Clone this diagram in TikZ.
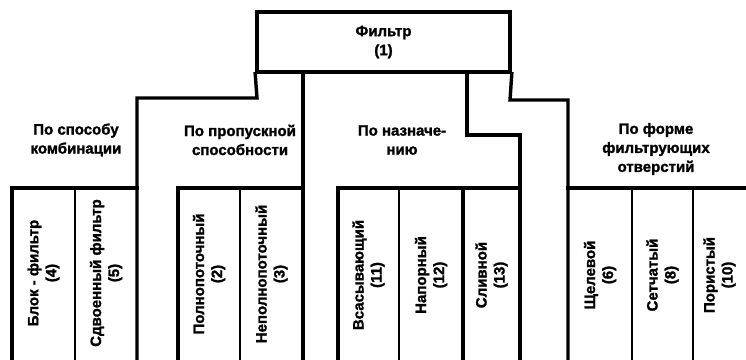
\documentclass[tikz,border=0pt]{standalone}
\usepackage{fontspec}
\setmainfont{Liberation Sans}
\newfontfamily\heavyfont[FakeBold=1.6]{Liberation Sans Bold}
\begin{document}
\begin{tikzpicture}[x=1pt,y=-1pt, line join=miter, line cap=rect,
  ln/.style={line width=3.4pt},
  dv/.style={line width=2.8pt},
  hd/.style={font=\fontsize{15}{19}\selectfont\heavyfont, align=center, inner sep=0pt},
  lf/.style={font=\fontsize{15}{18}\selectfont\heavyfont, align=center, rotate=90, inner sep=0pt}]
\useasboundingbox (0,0) rectangle (746,359);
% root box
\node[draw, line width=3.6pt, minimum width=253pt, minimum height=60pt, inner sep=0pt] (root) at (383.5,42) {};
\node[hd] (roottxt) at (root.center) {Фильтр\\(1)};
% connector lines
\draw[ln] (root.south west) -- (257,98) -- (137,98) -- (137,362);
\draw[ln] (303,72) -- (303,362);
\draw[ln] (467,72) -- (467,135) -- (520,135) -- (520,362);
\draw[ln] (root.south east) -- (510,100) -- (568,100) -- (568,362);
% group 1 leaves
\draw[ln] (12,362) -- (12,188) -- (137,188);
\draw[dv] (75,188) -- (75,362);
% group 2 leaves
\draw[ln] (178,362) -- (178,188) -- (303,188);
\draw[dv] (240,188) -- (240,362);
% group 3 leaves
\draw[ln] (338,362) -- (338,188) -- (520,188);
\draw[dv] (399,188) -- (399,362);
\draw[ln] (463,188) -- (463,362);
% group 4 leaves
\draw[ln] (568,188) -- (750,188);
\draw[dv] (632,188) -- (632,362);
\draw[dv] (693,188) -- (693,362);
% headers
\node[hd] (h1) at (76,140) {По способу\\комбинации};
\node[hd] (h2) at (240,140) {По пропускной\\способности};
\node[hd] (h3) at (402,140) {По назначе-\\нию};
\node[hd] (h4) at (656,149) {По форме\\фильтрующих\\отверстий};
% leaves
\node[lf] (l1) at (43.5,273) {Блок - фильтр\\(4)};
\node[lf] (l2) at (106,273) {Сдвоенный фильтр\\(5)};
\node[lf] (l3) at (209,274) {Полнопоточный\\(2)};
\node[lf] (l4) at (271.5,274) {Неполнопоточный\\(3)};
\node[lf] (l5) at (368.5,275) {Всасывающий\\(11)};
\node[lf] (l6) at (431,275) {Напорный\\(12)};
\node[lf] (l7) at (491.5,275) {Сливной\\(13)};
\node[lf] (l8) at (600,275) {Щелевой\\(6)};
\node[lf] (l9) at (662.5,275) {Сетчатый\\(8)};
\node[lf] (l10) at (719.5,275) {Пористый\\(10)};
\end{tikzpicture}
\end{document}
